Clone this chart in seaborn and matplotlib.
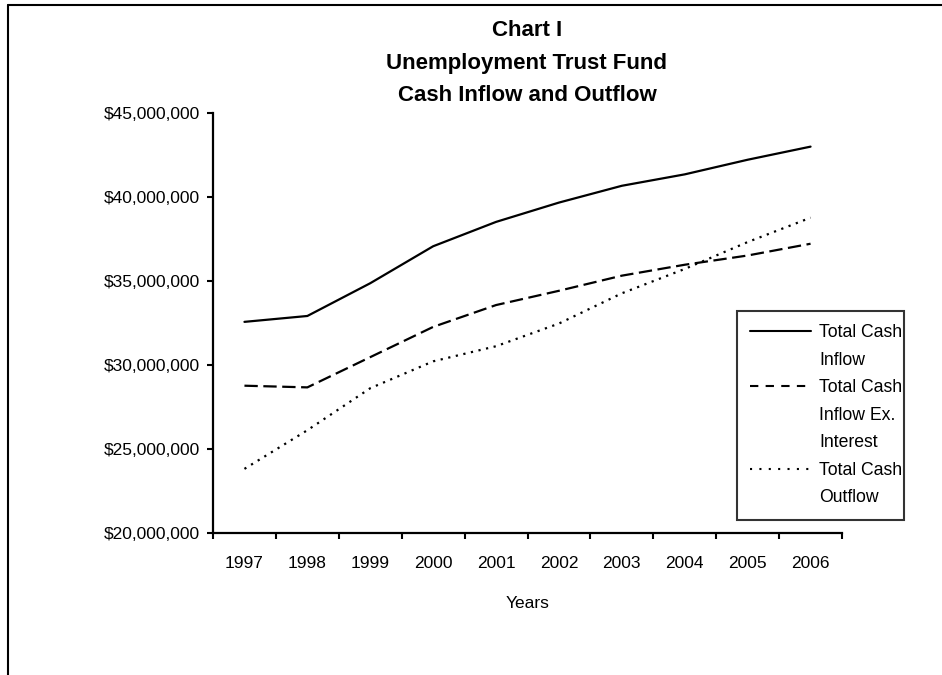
import seaborn as sns
import matplotlib.pyplot as plt
import matplotlib.ticker as mticker
from matplotlib.lines import Line2D
import pandas as pd

years = [1997, 1998, 1999, 2000, 2001, 2002, 2003, 2004, 2005, 2006]
cash_inflow = [32.55, 32.9, 34.85, 37.05, 38.5, 39.65, 40.65, 41.33, 42.2, 42.98]
inflow_ex_interest = [28.75, 28.65, 30.45, 32.25, 33.55, 34.4, 35.3, 35.95, 36.5, 37.2]
cash_outflow = [23.8, 26.1, 28.6, 30.2, 31.1, 32.45, 34.25, 35.7, 37.3, 38.75]
series_names = ["Total Cash Inflow", "Total Cash Inflow Ex. Interest", "Total Cash Outflow"]

df = pd.DataFrame({
    "pos": list(range(len(years))),
    series_names[0]: [v * 1e6 for v in cash_inflow],
    series_names[1]: [v * 1e6 for v in inflow_ex_interest],
    series_names[2]: [v * 1e6 for v in cash_outflow],
})
long_df = df.melt(id_vars="pos", var_name="series", value_name="value")

sns.set_theme(style="ticks")
plt.rcParams["font.family"] = ["Liberation Sans", "DejaVu Sans"]
plt.rcParams["text.color"] = "black"
plt.rcParams["axes.labelcolor"] = "black"

fig = plt.figure(figsize=(9.42, 6.75), dpi=100)
ax = fig.add_axes([213 / 942, 1 - 532.7 / 675, (842 - 213) / 942, (532.7 - 112.7) / 675])

dash_map = {series_names[0]: "", series_names[1]: (6, 2.5), series_names[2]: (1, 2.5)}
sns.lineplot(data=long_df, x="pos", y="value", style="series", dashes=dash_map,
             color="black", linewidth=1.6, legend=False, ax=ax)

ax.set_xlim(-0.5, len(years) - 0.5)
ax.set_ylim(20e6, 45e6)
ax.yaxis.set_major_locator(mticker.MultipleLocator(5e6))
ax.yaxis.set_major_formatter(mticker.StrMethodFormatter("${x:,.0f}"))
ax.set_xticks(range(len(years)))
ax.set_xticklabels([str(y) for y in years])
ax.set_xticks([i - 0.5 for i in range(len(years) + 1)], minor=True)
ax.tick_params(axis="x", which="major", length=0, pad=17, labelsize=12.5, colors="black")
ax.tick_params(axis="x", which="minor", length=4.5, width=1.5, color="black")
ax.tick_params(axis="y", length=4.5, width=1.5, pad=5, labelsize=12.5, colors="black")
ax.set_xlabel("Years", fontsize=12.5, labelpad=18, color="black")
ax.set_ylabel("")
sns.despine(ax=ax)
for side in ["left", "bottom"]:
    ax.spines[side].set_linewidth(1.6)
    ax.spines[side].set_color("black")

fig.text(527 / 942, 1 - 63 / 675, "Chart I\nUnemployment Trust Fund\nCash Inflow and Outflow",
         ha="center", va="center", fontsize=16, fontweight="bold", linespacing=1.7,
         color="black")

# legend with continuation lines as separate entries
blank = Line2D([], [], linestyle="none")
handles = [
    Line2D([], [], color="black", lw=1.5),
    blank,
    Line2D([], [], color="black", lw=1.5, dashes=(4, 3.5)),
    blank,
    blank,
    Line2D([], [], color="black", lw=1.5, dashes=(1, 3.5)),
    blank,
]
labels = ["Total Cash", "Inflow", "Total Cash", "Inflow Ex.", "Interest", "Total Cash", "Outflow"]
leg = fig.legend(handles, labels, loc="upper left",
                 bbox_to_anchor=(737 / 942, 1 - 310.7 / 675, 167 / 942, 0.0), mode="expand",
                 fontsize=12.7, frameon=True, fancybox=False, handlelength=3.45,
                 handletextpad=0.45, labelspacing=0.6, borderpad=0.75, borderaxespad=0)
leg.get_frame().set_edgecolor("black")
leg.get_frame().set_linewidth(1.5)

# outer chart border (left and top edges)
fig.add_artist(Line2D([8 / 942, 8 / 942], [0, 1 - 5 / 675], color="black", lw=1.5,
                      transform=fig.transFigure))
fig.add_artist(Line2D([8 / 942, 1], [1 - 5 / 675, 1 - 5 / 675], color="black", lw=1.5,
                      transform=fig.transFigure))

fig.savefig("out.png", dpi=100, facecolor="white")
plt.close(fig)
